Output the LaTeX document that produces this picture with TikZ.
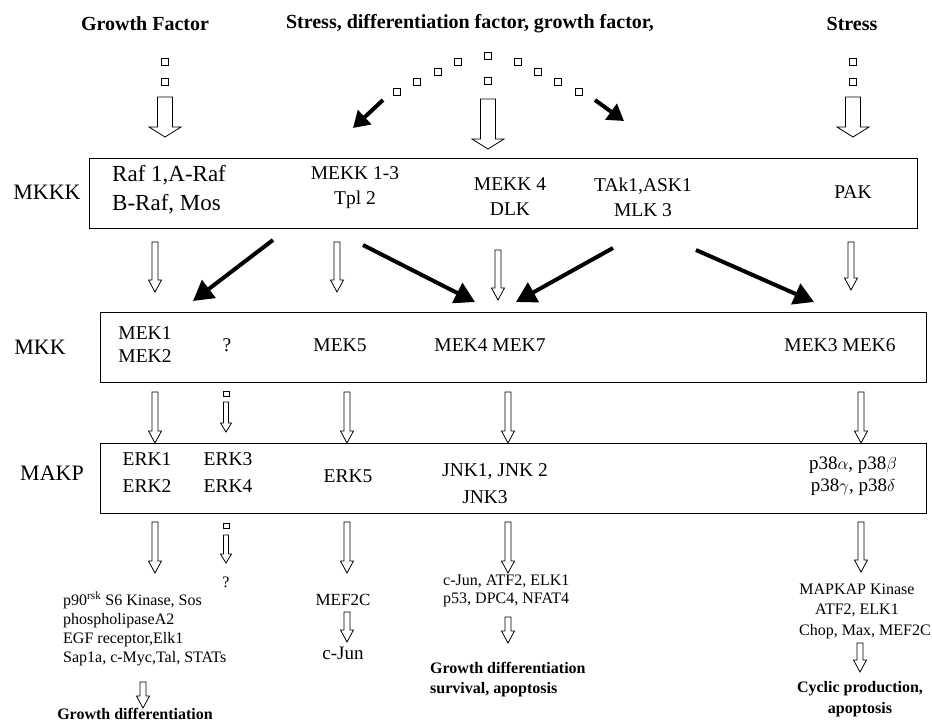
\documentclass[tikz,border=0pt]{standalone}
\usepackage{fontspec}
\setmainfont{Liberation Serif}
\usetikzlibrary{arrows.meta,calc}

\tikzset{
  sq/.style={draw,line width=0.7pt,minimum size=7.5pt,inner sep=0pt},
  sqsmall/.style={draw,line width=0.7pt,minimum width=6pt,minimum height=5pt,inner sep=0pt},
  layer/.style={draw,line width=0.9pt,minimum width=826pt,minimum height=70pt,inner sep=0pt},
  hollow/.style args={#1/#2/#3}{line width=0.8pt,to path={let \p1=(\tikztostart),\p2=(\tikztotarget) in
    (\x1-#1,\y1) -- (\x1-#1,\y2+#3) -- (\x1-#2,\y2+#3) -- (\x1,\y2) -- (\x1+#2,\y2+#3) -- (\x1+#1,\y2+#3) -- (\x1+#1,\y1) -- cycle}},
  bigarrow/.style={hollow=7.5pt/16pt/10pt},
  thinarrow/.style={hollow=3pt/6.5pt/12pt},
  tinyarrow/.style={hollow=2.5pt/5.5pt/9pt},
  heavy/.style={line width=4pt,-{Triangle[length=20pt,width=22pt]}},
  heavysmall/.style={line width=4pt,-{Triangle[length=16pt,width=19pt]}},
  head/.style={font=\bfseries\fontsize{20}{22}\selectfont,inner sep=0pt},
  lbl/.style={font=\fontsize{22}{24}\selectfont,inner sep=0pt},
  gene/.style={font=\fontsize{19.5}{25}\selectfont,align=center,inner sep=0pt},
  target/.style={font=\fontsize{16}{19}\selectfont,inner sep=0pt},
  effect/.style={font=\bfseries\fontsize{16}{20}\selectfont,inner sep=0pt}
}

\begin{document}
\begin{tikzpicture}[x=1pt,y=-1pt]
\useasboundingbox (0,0) rectangle (932,724);

% stimuli
\node[head] (gf) at (145,24) {Growth Factor};
\node[head] (sdg) at (470,24) {Stress, differentiation factor, growth factor,};
\node[head] (st) at (852,24) {Stress};

\node[sq] (gf1) at (165,62) {};
\node[sq] (gf2) at (165,82) {};
\node[sq] (md1) at (488,56) {};
\node[sq] (md2) at (488,81) {};
\node[sq] (st1) at (853,62) {};
\node[sq] (st2) at (853,82) {};
\foreach \x/\y [count=\i] in {397/92,417/82,438/72,458/62,518/62,538/72,558/82,579/92}
  \node[sq] (arc\i) at (\x,\y) {};

\coordinate (gfa) at (165,97);  \coordinate (gfb) at (165,137);
\coordinate (mda) at (488,99);  \coordinate (mdb) at (488,149);
\coordinate (sta) at (853,97);  \coordinate (stb) at (853,137);
\draw[bigarrow] (gfa) to (gfb);
\draw[bigarrow] (mda) to (mdb);
\draw[bigarrow] (sta) to (stb);

\coordinate (arl) at (383,100); \coordinate (tpl) at (353,128);
\coordinate (arr) at (595,100); \coordinate (tpr) at (624,121);
\draw[heavysmall] (arl) -- (tpl);
\draw[heavysmall] (arr) -- (tpr);

% MKKK
\node[layer,minimum width=828pt] (mkkk) at (503,193) {};
\node[lbl] (lmkkk) at (47,192) {MKKK};
\node[font=\fontsize{23}{29}\selectfont,align=left,anchor=west,inner sep=0pt] (raf) at (112,190) {Raf 1,A-Raf\\B-Raf, Mos};
\node[gene] (mekk) at (355,188) {MEKK 1-3\\Tpl 2};
\node[gene] (dlk) at (510,197) {MEKK 4\\DLK};
\node[gene] (tak) at (643,197) {TAk1,ASK1\\MLK 3};
\node[gene] (pak) at (853,192) {PAK};

\coordinate (k1a) at (155,242); \coordinate (k1b) at (155,292);
\coordinate (k2a) at (337,242); \coordinate (k2b) at (337,292);
\coordinate (k3a) at (498,250); \coordinate (k3b) at (498,300);
\coordinate (k4a) at (851,242); \coordinate (k4b) at (851,290);
\draw[thinarrow] (k1a) to (k1b);
\draw[thinarrow] (k2a) to (k2b);
\draw[thinarrow] (k3a) to (k3b);
\draw[thinarrow] (k4a) to (k4b);

\coordinate (x1a) at (273,240); \coordinate (x1b) at (193,301);
\coordinate (x2a) at (363,245); \coordinate (x2b) at (475,302);
\coordinate (x3a) at (613,248); \coordinate (x3b) at (516,302);
\coordinate (x4a) at (696,250); \coordinate (x4b) at (814,302);
\draw[heavy] (x1a) -- (x1b);
\draw[heavy] (x2a) -- (x2b);
\draw[heavy] (x3a) -- (x3b);
\draw[heavy] (x4a) -- (x4b);

% MKK
\node[layer] (mkk) at (513,347) {};
\node[lbl] (lmkk) at (40,347) {MKK};
\node[gene,font=\fontsize{19.5}{23}\selectfont] (mek12) at (145,345) {MEK1\\MEK2};
\node[gene] (unk) at (227,345) {?};
\node[gene] (mek5) at (340,345) {MEK5};
\node[gene] (mek47) at (490,345) {MEK4 MEK7};
\node[gene] (mek36) at (840,345) {MEK3 MEK6};

\coordinate (m1a) at (155,392); \coordinate (m1b) at (155,443);
\coordinate (m3a) at (347,392); \coordinate (m3b) at (347,443);
\coordinate (m4a) at (508,392); \coordinate (m4b) at (508,443);
\coordinate (m5a) at (861,392); \coordinate (m5b) at (861,443);
\node[sqsmall] (m2s) at (226,394) {};
\coordinate (m2a) at (226,402); \coordinate (m2b) at (226,432);
\draw[thinarrow] (m1a) to (m1b);
\draw[tinyarrow] (m2a) to (m2b);
\draw[thinarrow] (m3a) to (m3b);
\draw[thinarrow] (m4a) to (m4b);
\draw[thinarrow] (m5a) to (m5b);

% MAKP
\node[layer] (makp) at (513,478) {};
\node[lbl] (lmakp) at (52,473) {MAKP};
\node[gene,font=\fontsize{19.5}{27}\selectfont] (erk12) at (147,473) {ERK1\\ERK2};
\node[gene,font=\fontsize{19.5}{27}\selectfont] (erk34) at (228,473) {ERK3\\ERK4};
\node[gene] (erk5) at (348,476) {ERK5};
\node[gene] (jnk12) at (495,472) {JNK1, JNK 2};
\node[gene] (jnk3) at (485,497) {JNK3};
\node[gene,font=\fontsize{19}{22}\selectfont] (p38) at (853,476) {p38$\alpha$, p38$\beta$\\p38$\gamma$, p38$\delta$};

\coordinate (e1a) at (155,522); \coordinate (e1b) at (155,573);
\coordinate (e3a) at (347,522); \coordinate (e3b) at (347,573);
\coordinate (e4a) at (508,522); \coordinate (e4b) at (508,573);
\coordinate (e5a) at (861,522); \coordinate (e5b) at (861,572);
\node[sqsmall] (e2s) at (226,526) {};
\coordinate (e2a) at (226,535); \coordinate (e2b) at (226,563);
\draw[thinarrow] (e1a) to (e1b);
\draw[tinyarrow] (e2a) to (e2b);
\draw[thinarrow] (e3a) to (e3b);
\draw[thinarrow] (e4a) to (e4b);
\draw[thinarrow] (e5a) to (e5b);

% substrates
\node[target,align=left,anchor=west] (erksub) at (63,629) {p90\textsuperscript{rsk} S6 Kinase, Sos\\phospholipaseA2\\EGF receptor,Elk1\\Sap1a, c-Myc,Tal, STATs};
\node[target] (unksub) at (226,582) {?};
\node[target,font=\fontsize{17}{19}\selectfont] (mef) at (343,600) {MEF2C};
\node[target,font=\fontsize{19}{19}\selectfont] (cjun) at (343,653) {c-Jun};
\node[target,align=left,anchor=west,font=\fontsize{16}{18}\selectfont] (jnksub) at (443,591) {c-Jun, ATF2, ELK1\\p53, DPC4, NFAT4};
\node[target,align=center,font=\fontsize{16}{20.5}\selectfont] (p38sub) at (857,611) {MAPKAP Kinase\\ATF2, ELK1\\\hspace*{16pt}Chop, Max, MEF2C};

\coordinate (s1a) at (143,682); \coordinate (s1b) at (143,708);
\coordinate (s3a) at (347,612); \coordinate (s3b) at (347,642);
\coordinate (s4a) at (508,617); \coordinate (s4b) at (508,643);
\coordinate (s5a) at (860,643); \coordinate (s5b) at (860,672);
\draw[thinarrow] (s1a) to (s1b);
\draw[thinarrow] (s3a) to (s3b);
\draw[thinarrow] (s4a) to (s4b);
\draw[thinarrow] (s5a) to (s5b);

% outcomes
\node[effect] (erkout) at (135,714) {Growth differentiation};
\node[effect,align=left,anchor=west] (jnkout) at (430,680) {Growth differentiation\\survival, apoptosis};
\node[effect,align=center,font=\bfseries\fontsize{16}{21}\selectfont] (p38out) at (860,699) {Cyclic production,\\apoptosis};
\end{tikzpicture}
\end{document}
